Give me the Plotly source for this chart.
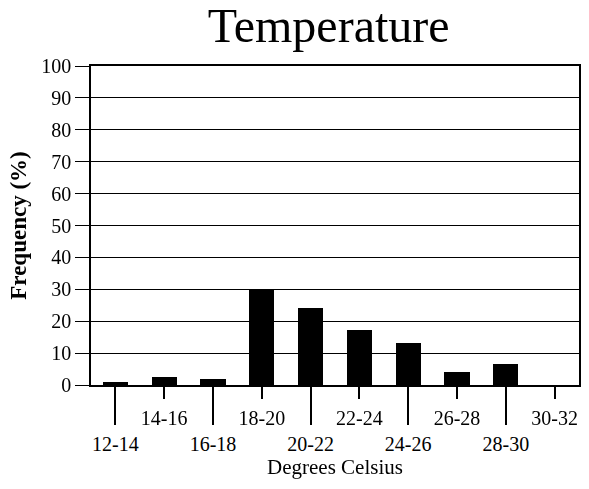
import plotly.graph_objects as go

# Temperature ranges (degrees Celsius) and their frequencies (%)
ranges = ["12-14", "14-16", "16-18", "18-20", "20-22",
          "22-24", "24-26", "26-28", "28-30", "30-32"]
frequency = [0.8, 2.5, 2.0, 30.0, 24.0, 17.2, 13.1, 4.1, 6.6, 0.0]
y_ticks = list(range(0, 101, 10))

serif = "Liberation Serif, Times New Roman, Times, serif"

fig = go.Figure()
fig.add_trace(go.Bar(
    x=ranges, y=frequency, width=0.52,
    marker=dict(color="black", line=dict(width=0)),
    xaxis="x", yaxis="y", showlegend=False, hoverinfo="skip",
))
# companion trace so the second (short-tick) x axis has data to follow
fig.add_trace(go.Scatter(
    x=ranges, y=frequency, mode="markers", opacity=0,
    xaxis="x2", yaxis="y", showlegend=False, hoverinfo="skip",
))

common_x = dict(
    type="category", categoryorder="array", categoryarray=ranges,
    range=[-0.5, len(ranges) - 0.5], showgrid=False, zeroline=False,
    ticks="outside", tickcolor="black", tickwidth=1.5,
    tickfont=dict(family=serif, size=20, color="black"),
    fixedrange=True,
)

fig.update_layout(
    width=589, height=489,
    margin=dict(l=91, r=8, t=66, b=104),
    paper_bgcolor="white", plot_bgcolor="white",
    bargap=0,
    title=dict(text="Temperature", x=0.558, xanchor="center",
               y=0.948, yanchor="middle",
               font=dict(family=serif, size=48, color="black")),
    xaxis=dict(
        **common_x,
        tickvals=ranges[0::2], ticktext=ranges[0::2],
        ticklen=38, ticklabelstandoff=2,
        showline=True, linecolor="black", linewidth=1.5, mirror=True,
        title=dict(text="Degrees Celsius", standoff=2,
                   font=dict(family=serif, size=21, color="black")),
    ),
    xaxis2=dict(
        **common_x,
        overlaying="x", anchor="y", side="bottom",
        tickvals=ranges[1::2], ticktext=ranges[1::2],
        ticklen=13, ticklabelstandoff=2,
        showline=False,
    ),
    yaxis=dict(
        range=[0, 100], tickvals=y_ticks,
        showgrid=True, gridcolor="black", gridwidth=1.2,
        zeroline=False,
        showline=True, linecolor="black", linewidth=1.5, mirror=True,
        ticks="outside", ticklen=14, tickcolor="black", tickwidth=1.2,
        tickfont=dict(family=serif, size=20, color="black"),
        title=dict(text="<b>Frequency (%)</b>", standoff=8,
                   font=dict(family=serif, size=23, color="black")),
        fixedrange=True,
    ),
)

fig.write_html("out.html")
